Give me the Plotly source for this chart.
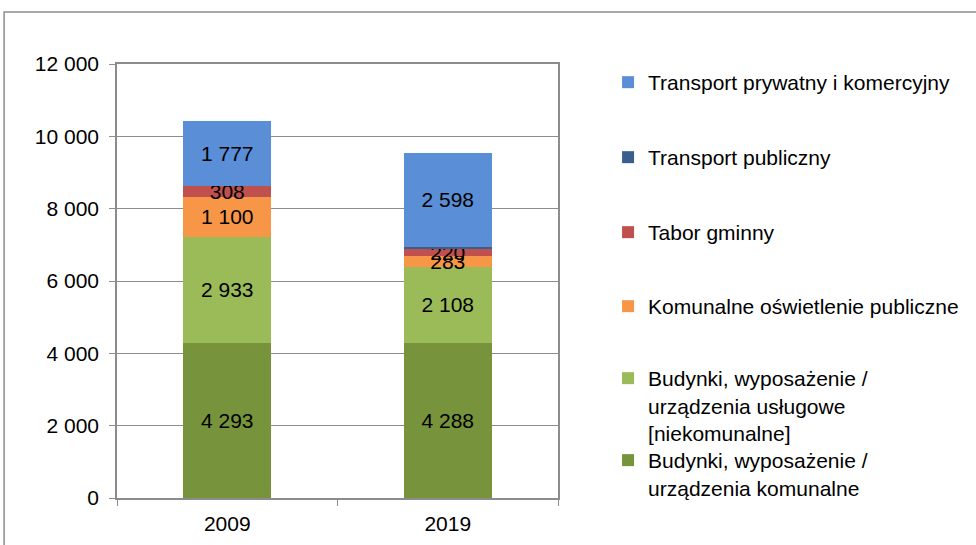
import plotly.graph_objects as go

# Categories (years) and series values
years = ["2009", "2019"]
series_names = [
    "Budynki, wyposażenie /<br>urządzenia komunalne",
    "Budynki, wyposażenie /<br>urządzenia usługowe<br>[niekomunalne]",
    "Komunalne oświetlenie publiczne",
    "Tabor gminny",
    "Transport publiczny",
    "Transport prywatny i komercyjny",
]
budynki_komunalne = [4293, 4288]
budynki_uslugowe = [2933, 2108]
oswietlenie = [1100, 283]
tabor = [308, 220]
transport_publiczny = [0, 55]
transport_prywatny = [1777, 2598]

series_values = [
    budynki_komunalne,
    budynki_uslugowe,
    oswietlenie,
    tabor,
    transport_publiczny,
    transport_prywatny,
]
colors = ["#77933C", "#9BBB59", "#F79646", "#C0504D", "#3A5F8F", "#5A8ED6"]
show_labels = [True, True, True, True, False, True]

# Legend slots (container y of each entry's top), one legend per series
legend_y = [0.1927, 0.3431, 0.4752, 0.6110, 0.7486, 0.8862]

FONT = "Liberation Sans, Arial, sans-serif"
FS = 21

fig = go.Figure()
for i, (name, vals, col, lab) in enumerate(zip(series_names, series_values, colors, show_labels)):
    fig.add_trace(go.Bar(
        x=years,
        y=vals,
        name=name,
        marker=dict(color=col, line=dict(width=0)),
        texttemplate="%{y:,d}" if lab else "",
        textposition="inside",
        insidetextanchor="middle",
        textangle=0,
        textfont=dict(color="black", size=FS, family=FONT),
        hoverinfo="skip",
        legend="legend" if i == 0 else f"legend{i + 1}",
    ))

layout_legends = {}
for i, ly in enumerate(legend_y):
    key = "legend" if i == 0 else f"legend{i + 1}"
    layout_legends[key] = dict(
        xref="container", yref="container",
        x=0.623, y=ly, xanchor="left", yanchor="top",
        font=dict(size=FS, family=FONT, color="black"),
        bgcolor="rgba(0,0,0,0)",
        valign="top",
        itemclick=False, itemdoubleclick=False,
    )

fig.update_layout(
    barmode="stack",
    bargap=0.6,
    width=976,
    height=545,
    margin=dict(l=117, r=418, t=64, b=47, autoexpand=False),
    paper_bgcolor="white",
    plot_bgcolor="white",
    separators=", ",
    font=dict(family=FONT, size=FS, color="black"),
    uniformtext=dict(minsize=FS, mode="show"),
    showlegend=True,
    **layout_legends,
)

fig.update_yaxes(
    range=[0, 12000],
    dtick=2000,
    tickformat=",d",
    showgrid=True,
    gridcolor="#8C8C8C",
    gridwidth=1,
    showline=True,
    linecolor="#8C8C8C",
    linewidth=1.5,
    mirror=True,
    ticks="outside",
    ticklen=6,
    tickcolor="#8C8C8C",
    ticklabelstandoff=6,
    zeroline=False,
    tickfont=dict(size=FS, family=FONT, color="black"),
)
fig.update_xaxes(
    showline=True,
    linecolor="#8C8C8C",
    linewidth=1.5,
    mirror=True,
    ticks="outside",
    tickson="boundaries",
    ticklen=6,
    tickcolor="#8C8C8C",
    ticklabelstandoff=6,
    tickfont=dict(size=FS, family=FONT, color="black"),
)

# Outer chart frame
fig.add_shape(
    type="rect", xref="paper", yref="paper",
    x0=-0.256, x1=2.0, y0=-0.5, y1=1.12,
    line=dict(color="#8C8C8C", width=1.5),
    fillcolor="rgba(0,0,0,0)",
    layer="below",
)

fig.write_html("out.html")
